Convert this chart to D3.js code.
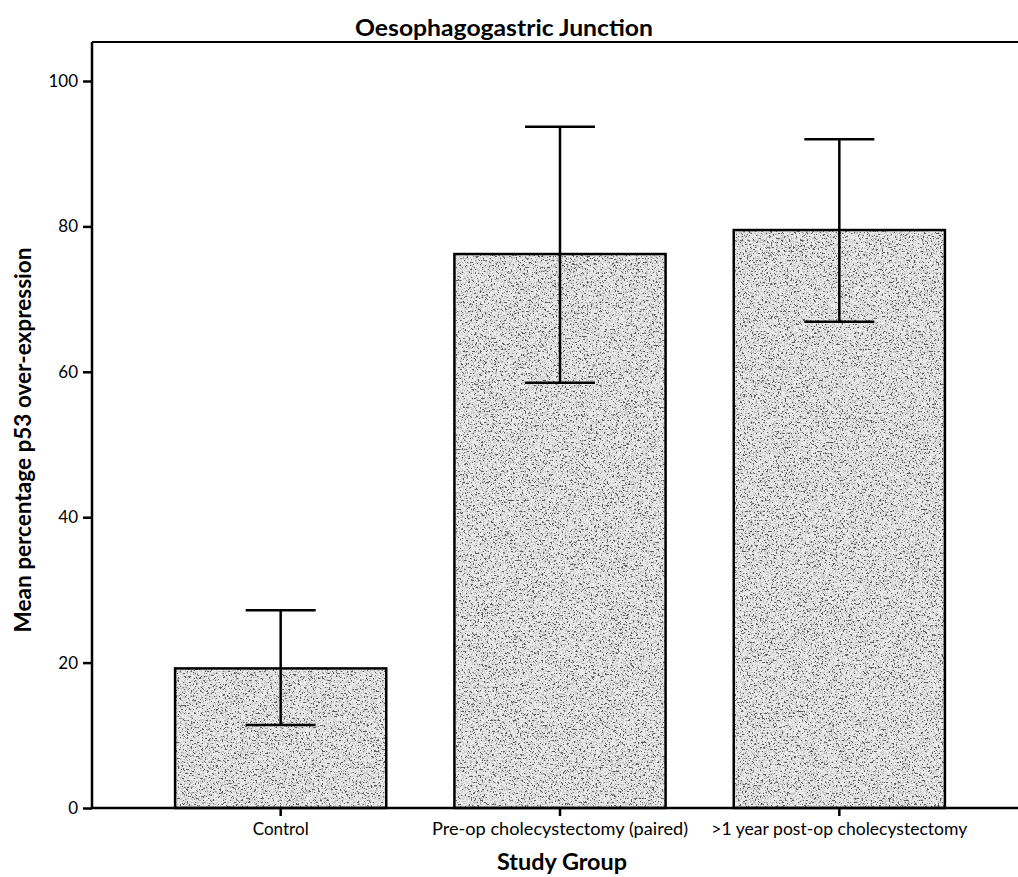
<!DOCTYPE html>
<html>
<head>
<meta charset="utf-8">
<script src="https://cdn.jsdelivr.net/npm/d3@7"></script>
<style>
  html, body { margin: 0; padding: 0; background: #fff; }
  svg { display: block; }
  text { font-family: Lato, "Open Sans", sans-serif; fill: #000; }
</style>
</head>
<body>
<script>
const categories = ["Control", "Pre-op cholecystectomy (paired)", ">1 year post-op cholecystectomy"];
const meanValues = [19.2, 76.2, 79.5];
const errLow = [11.4, 58.5, 66.9];
const errHigh = [27.2, 93.7, 92.0];
const yTicks = [0, 20, 40, 60, 80, 100];
const chartTitle = "Oesophagogastric Junction";
const xTitle = "Study Group";
const yTitle = "Mean percentage p53 over-expression";

const W = 1018, H = 877;
const plotLeft = 92, plotRight = 1018, plotTop = 42, plotBottom = 808;

const svg = d3.select("body").append("svg").attr("width", W).attr("height", H);

const defs = svg.append("defs");
const f = defs.append("filter").attr("id", "speckle")
  .attr("x", 0).attr("y", 0).attr("width", "100%").attr("height", "100%");
// sparse dark clumps
f.append("feTurbulence").attr("type", "fractalNoise").attr("baseFrequency", 0.55)
  .attr("numOctaves", 2).attr("seed", 7).attr("result", "noise");
f.append("feColorMatrix").attr("in", "noise").attr("type", "matrix")
  .attr("values", "0 0 0 0 0.1  0 0 0 0 0.1  0 0 0 0 0.1  -14 0 0 0 5.6").attr("result", "dots");
f.append("feComposite").attr("in", "dots").attr("in2", "SourceGraphic").attr("operator", "in").attr("result", "dotsIn");
// fine grey stipple
f.append("feTurbulence").attr("type", "fractalNoise").attr("baseFrequency", 1.8)
  .attr("numOctaves", 1).attr("seed", 2).attr("result", "noise2");
f.append("feColorMatrix").attr("in", "noise2").attr("type", "matrix")
  .attr("values", "0 0 0 0 0.55  0 0 0 0 0.55  0 0 0 0 0.55  -10 0 0 0 4.9").attr("result", "fine");
f.append("feComposite").attr("in", "fine").attr("in2", "SourceGraphic").attr("operator", "in").attr("result", "fineIn");
const m = f.append("feMerge");
m.append("feMergeNode").attr("in", "SourceGraphic");
m.append("feMergeNode").attr("in", "fineIn");
m.append("feMergeNode").attr("in", "dotsIn");

const x = d3.scaleBand().domain(categories).range([141, 979]).paddingInner(0.244).paddingOuter(0.122);
const y = d3.scaleLinear().domain([0, 100]).range([plotBottom, plotBottom - 727]);

// top border
svg.append("line").attr("x1", plotLeft).attr("x2", plotRight).attr("y1", plotTop).attr("y2", plotTop)
  .attr("stroke", "#000").attr("stroke-width", 2);

// bars
const bars = svg.append("g");
categories.forEach((c, i) => {
  bars.append("rect").attr("x", x(c)).attr("y", y(meanValues[i]))
    .attr("width", x.bandwidth()).attr("height", y(0) - y(meanValues[i]))
    .attr("fill", "#ececec").attr("filter", "url(#speckle)");
  bars.append("rect").attr("x", x(c)).attr("y", y(meanValues[i]))
    .attr("width", x.bandwidth()).attr("height", y(0) - y(meanValues[i]))
    .attr("fill", "none").attr("stroke", "#000").attr("stroke-width", 2.5);
});

// error bars
const eb = svg.append("g").attr("stroke", "#000").attr("stroke-width", 2.5);
categories.forEach((c, i) => {
  const cx = x(c) + x.bandwidth() / 2;
  const half = 35;
  eb.append("line").attr("x1", cx).attr("x2", cx).attr("y1", y(errLow[i])).attr("y2", y(errHigh[i]));
  eb.append("line").attr("x1", cx - half).attr("x2", cx + half).attr("y1", y(errHigh[i])).attr("y2", y(errHigh[i]));
  eb.append("line").attr("x1", cx - half).attr("x2", cx + half).attr("y1", y(errLow[i])).attr("y2", y(errLow[i]));
});

// y axis
const yAxis = svg.append("g").attr("transform", `translate(${plotLeft},0)`)
  .call(d3.axisLeft(y).tickValues(yTicks).tickSize(9).tickPadding(5));
yAxis.select(".domain").attr("d", `M0,${plotTop}V${plotBottom}`).attr("stroke-width", 2.5);
yAxis.selectAll(".tick line").attr("stroke-width", 2.5);
yAxis.selectAll(".tick text").style("font-size", "17px").style("font-family", "Lato, sans-serif");

// x axis
const xAxis = svg.append("g").attr("transform", `translate(0,${plotBottom})`)
  .call(d3.axisBottom(x).tickSize(8).tickPadding(8));
xAxis.select(".domain").attr("d", `M${plotLeft},0H${plotRight}`).attr("stroke-width", 2.5);
xAxis.selectAll(".tick line").attr("stroke-width", 2.5);
const xLabelLen = [56, 256, 256];
xAxis.selectAll(".tick text").style("font-size", "17px").style("font-family", "Lato, sans-serif")
  .attr("dy", null).attr("y", 27)
  .attr("textLength", (d, i) => xLabelLen[i]).attr("lengthAdjust", "spacingAndGlyphs");

// titles
svg.append("text").attr("x", 504).attr("y", 36).attr("text-anchor", "middle")
  .style("font-size", "23px").style("font-weight", "bold")
  .attr("textLength", 298).attr("lengthAdjust", "spacingAndGlyphs").text(chartTitle);
svg.append("text").attr("x", 562).attr("y", 870).attr("text-anchor", "middle")
  .style("font-size", "22px").style("font-weight", "bold")
  .attr("textLength", 130).attr("lengthAdjust", "spacingAndGlyphs").text(xTitle);
svg.append("text").attr("transform", "translate(31,440) rotate(-90)").attr("text-anchor", "middle")
  .style("font-size", "22px").style("font-weight", "bold")
  .attr("textLength", 385).attr("lengthAdjust", "spacingAndGlyphs").text(yTitle);
</script>
</body>
</html>
